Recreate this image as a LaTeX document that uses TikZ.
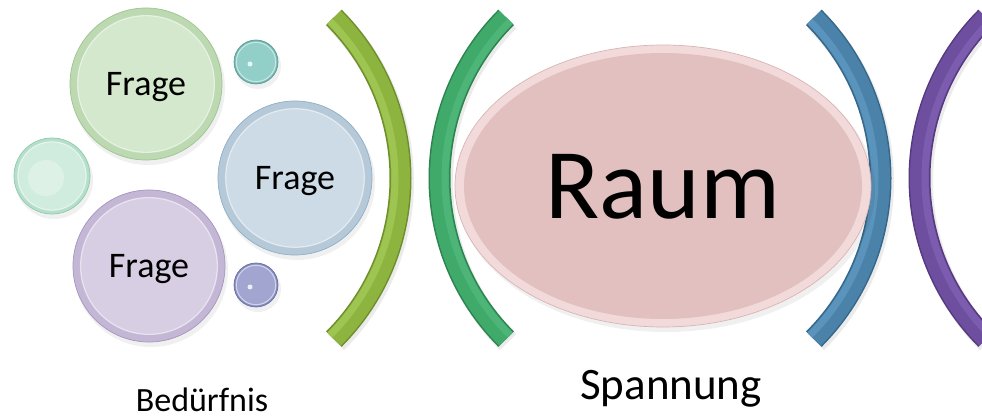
\documentclass[tikz,border=0pt]{standalone}
\usepackage{fontspec}
\setmainfont{Carlito}
\usetikzlibrary{shapes.geometric,calc}

\definecolor{gB}{HTML}{D3E8CC}\definecolor{gE}{HTML}{BCD9B2}\definecolor{gD}{HTML}{9CC48E}
\definecolor{bB}{HTML}{CCDBE6}\definecolor{bE}{HTML}{B6C9D8}\definecolor{bD}{HTML}{8EAEC6}
\definecolor{pB}{HTML}{D7CEE3}\definecolor{pE}{HTML}{C3B7D5}\definecolor{pD}{HTML}{A495BE}
\definecolor{mB}{HTML}{CFECDE}\definecolor{mE}{HTML}{B5DFCA}\definecolor{mD}{HTML}{8CCBAE}
\definecolor{tB}{HTML}{91CFC8}\definecolor{tE}{HTML}{75B9B3}\definecolor{tD}{HTML}{5A9C97}
\definecolor{vB}{HTML}{A2A5D0}\definecolor{vE}{HTML}{878BBD}\definecolor{vD}{HTML}{6A6EA4}
\definecolor{rB}{HTML}{E2C0C0}\definecolor{rE}{HTML}{F3DADA}\definecolor{rD}{HTML}{D9B3B3}
\definecolor{a1}{HTML}{8DB43F}\definecolor{a1l}{HTML}{B3D867}\definecolor{a1d}{HTML}{6D8E2A}
\definecolor{a2}{HTML}{3FAA6A}\definecolor{a2l}{HTML}{5CC487}\definecolor{a2d}{HTML}{2D8350}
\definecolor{a3}{HTML}{4A82A9}\definecolor{a3l}{HTML}{6FA8D2}\definecolor{a3d}{HTML}{35678A}
\definecolor{a4}{HTML}{6E4F9F}\definecolor{a4l}{HTML}{8D6DC2}\definecolor{a4d}{HTML}{553A80}

\tikzset{
  bubblebase/.style={circle, inner sep=0pt, line width=0.7pt, text depth=0pt},
  fragefont/.style={font=\fontsize{36}{36}\selectfont},
  caption/.style={font=\fontsize{34}{34}\selectfont, text depth=0pt, inner sep=0pt},
}

% name, x, y, r, colour prefix, text
\newcommand\mybubble[6]{%
  \fill[black, opacity=0.06] (#2+2,#3+4) circle[radius=#4+1];
  \node[bubblebase, draw=#5D, fill=#5E, minimum size=2*#4,
        path picture={
          \fill[#5B] (path picture bounding box.center) circle[radius=0.9*#4];
          \draw[white, opacity=0.55, line width=1.2pt] (path picture bounding box.center) circle[radius=0.9*#4];
        }, fragefont] (#1) at (#2,#3) {#6};
}
% name, centre x, centre y, start angle, colour prefix
\newcommand\myarc[5]{%
  \coordinate (#1) at (#2,#3);
  \draw[black, opacity=0.08, line width=23pt] ($(#1)+(2,3)+(#4:227.5)$) arc[start angle=#4, delta angle=90, radius=227.5];
  \draw[#5d, line width=22pt] ($(#1)+(#4:227.5)$) arc[start angle=#4, delta angle=90, radius=227.5];
  \draw[#5, line width=19pt] ($(#1)+(#4:227.5)$) arc[start angle=#4, delta angle=90, radius=227.5];
  \draw[#5l, line width=7pt, opacity=0.45] ($(#1)+(#4:222)$) arc[start angle=#4, delta angle=90, radius=222];
}

\begin{document}
\begin{tikzpicture}[x=1pt,y=-1pt]
\useasboundingbox (0,0) rectangle (982,419);
\clip (0,0) rectangle (982,419);

% arcs
\myarc{arcA}{173}{178.25}{-45}{a1}
\myarc{arcB}{667}{178.25}{135}{a2}
\myarc{arcC}{653}{178.25}{-45}{a3}
\myarc{arcD}{1147}{178.25}{135}{a4}

% bubbles
\mybubble{mint}{52}{176}{38}{m}{}
\mybubble{teal}{256}{62}{22}{t}{}
\mybubble{violet}{256}{285}{22}{v}{}
\mybubble{f1}{146}{84}{76}{g}{Frage}
\mybubble{f2}{295}{178}{77}{b}{Frage}
\mybubble{f3}{149}{266}{76}{p}{Frage}
\fill[white, opacity=0.8] ($(teal)+(-6,2)$) circle[radius=2.5];
\fill[white, opacity=0.8] ($(violet)+(-6,2)$) circle[radius=2.5];
\fill[white, opacity=0.3] ($(mint)+(-6,2)$) circle[radius=18];

% central ellipse
\fill[black, opacity=0.06] (666,190) ellipse[x radius=209, y radius=142];
\node[ellipse, draw=rD, line width=0.7pt, fill=rE, minimum width=416, minimum height=282, inner sep=0pt,
      text depth=0pt, font=\fontsize{100}{100}\selectfont,
      path picture={
        \fill[rB] (path picture bounding box.center) ellipse[x radius=199, y radius=133];
      }] (raum) at (663,186) {Raum};

% captions
\node[caption] (bed) at (202,400) {Bedürfnis};
\node[caption, font=\fontsize{45}{45}\selectfont] (spann) at (671,385) {Spannung};
\end{tikzpicture}
\end{document}
